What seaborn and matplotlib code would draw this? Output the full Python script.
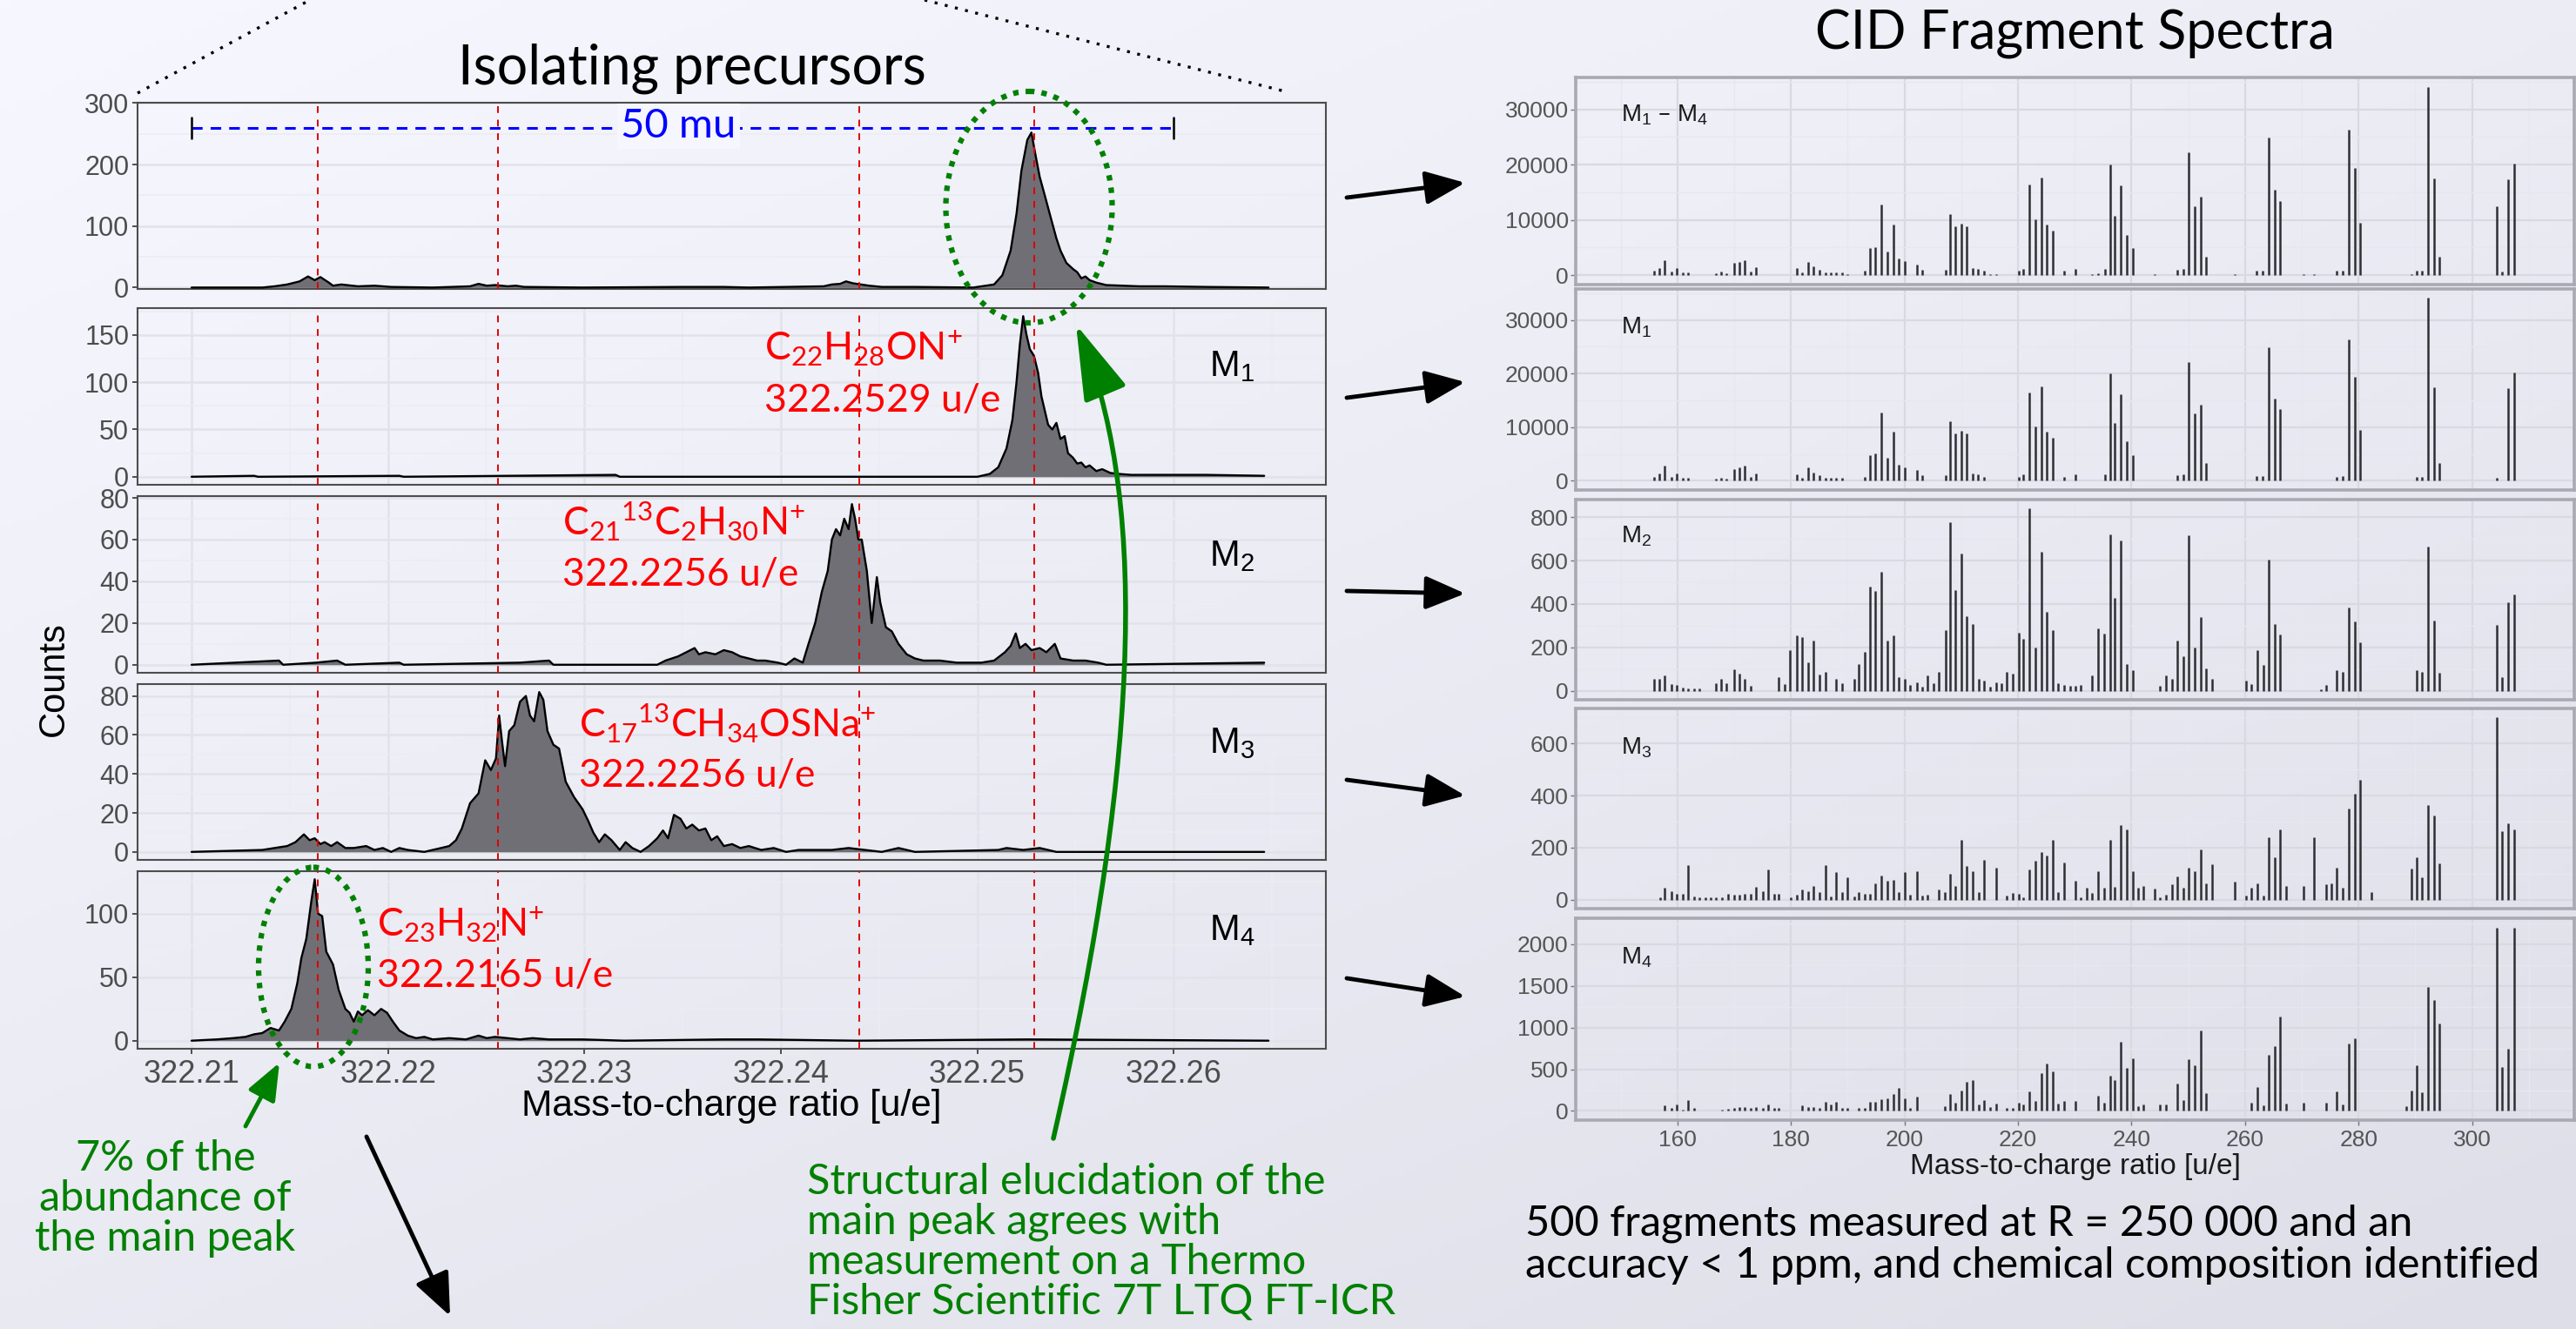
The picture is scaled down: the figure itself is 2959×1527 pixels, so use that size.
import numpy as np
import matplotlib
matplotlib.use("Agg")
import matplotlib.pyplot as plt
import seaborn as sns
from matplotlib.patches import Ellipse, FancyArrowPatch
from matplotlib.path import Path

# ---------------------------------------------------------------- data
# precursor isolation profiles (m/z, counts)
prec_all = [(322.21000, 0), (322.21296, 0), (322.21360, 0), (322.21423, 2), (322.21487, 5),
            (322.21550, 10), (322.21593, 18), (322.21627, 12), (322.21656, 17), (322.21699, 8),
            (322.21720, 3), (322.21762, 5), (322.21847, 2), (322.21931, 3), (322.22016, 1),
            (322.22228, 0), (322.22418, 2), (322.22461, 6), (322.22503, 3), (322.22545, 4),
            (322.22609, 2), (322.22651, 3), (322.22693, 1), (322.22990, 0), (322.23498, 1),
            (322.23710, 1), (322.23837, 0), (322.24218, 2), (322.24260, 5), (322.24302, 6),
            (322.24332, 10), (322.24366, 7), (322.24408, 5), (322.24450, 3), (322.24514, 1),
            (322.24683, 1), (322.24980, 0), (322.25086, 5), (322.25128, 20), (322.25170, 60),
            (322.25200, 120), (322.25225, 190), (322.25255, 240), (322.25276, 252), (322.25297, 215),
            (322.25318, 180), (322.25348, 145), (322.25369, 120), (322.25403, 80), (322.25424, 60),
            (322.25454, 40), (322.25488, 30), (322.25509, 25), (322.25530, 15), (322.25551, 18),
            (322.25572, 12), (322.25606, 8), (322.25657, 4), (322.25742, 3), (322.25826, 2),
            (322.25953, 2), (322.26165, 1), (322.26483, 0)]

prec_m1 = [(322.21000, 0), (322.21318, 1), (322.21339, 0), (322.22058, 1), (322.22080, 0),
           (322.23159, 2), (322.23180, 0), (322.25001, 0), (322.25064, 3), (322.25107, 10),
           (322.25149, 30), (322.25179, 60), (322.25200, 100), (322.25217, 140), (322.25234, 170),
           (322.25251, 150), (322.25268, 135), (322.25289, 128), (322.25310, 110), (322.25327, 85),
           (322.25344, 70), (322.25361, 55), (322.25382, 50), (322.25403, 57), (322.25424, 40),
           (322.25445, 43), (322.25462, 25), (322.25488, 20), (322.25509, 14), (322.25530, 15),
           (322.25551, 10), (322.25572, 12), (322.25606, 6), (322.25636, 8), (322.25678, 4),
           (322.25720, 3), (322.25784, 2), (322.25953, 2), (322.26165, 2), (322.26461, 1)]

prec_m2 = [(322.21000, 0), (322.21445, 2), (322.21466, 0), (322.21635, 1), (322.21741, 2),
           (322.21783, 0), (322.22058, 1), (322.22080, 0), (322.22672, 1), (322.22820, 2),
           (322.22842, 0), (322.23371, 0), (322.23413, 2), (322.23477, 4), (322.23519, 6),
           (322.23561, 8), (322.23583, 5), (322.23616, 6), (322.23667, 5), (322.23710, 7),
           (322.23752, 6), (322.23794, 4), (322.23837, 3), (322.23879, 2), (322.23921, 2),
           (322.23985, 1), (322.24027, 0), (322.24069, 3), (322.24112, 1), (322.24141, 10),
           (322.24175, 20), (322.24209, 35), (322.24239, 45), (322.24260, 60), (322.24281, 65),
           (322.24302, 62), (322.24323, 70), (322.24345, 65), (322.24362, 77), (322.24378, 70),
           (322.24395, 60), (322.24412, 60), (322.24438, 45), (322.24463, 20), (322.24489, 42),
           (322.24506, 30), (322.24535, 18), (322.24565, 16), (322.24599, 10), (322.24641, 5),
           (322.24683, 3), (322.24726, 2), (322.24810, 2), (322.24895, 1), (322.25022, 1),
           (322.25086, 2), (322.25141, 6), (322.25170, 9), (322.25196, 15), (322.25217, 8),
           (322.25246, 10), (322.25276, 7), (322.25318, 8), (322.25352, 6), (322.25395, 10),
           (322.25424, 3), (322.25488, 2), (322.25551, 2), (322.25615, 1), (322.25657, 0),
           (322.26461, 1)]

prec_m3 = [(322.21000, 0), (322.21360, 1), (322.21423, 2), (322.21487, 3), (322.21529, 5),
           (322.21572, 9), (322.21601, 6), (322.21627, 7), (322.21656, 4), (322.21677, 5),
           (322.21711, 3), (322.21741, 5), (322.21783, 2), (322.21826, 2), (322.21889, 3),
           (322.21931, 1), (322.21974, 2), (322.22016, 0), (322.22058, 2), (322.22101, 1),
           (322.22185, 0), (322.22270, 2), (322.22312, 3), (322.22346, 6), (322.22376, 12),
           (322.22418, 25), (322.22461, 30), (322.22495, 47), (322.22524, 42), (322.22550, 48),
           (322.22566, 70), (322.22579, 58), (322.22596, 44), (322.22617, 62), (322.22643, 65),
           (322.22672, 77), (322.22702, 80), (322.22723, 70), (322.22744, 67), (322.22770, 82),
           (322.22791, 78), (322.22812, 62), (322.22842, 55), (322.22871, 53), (322.22905, 36),
           (322.22948, 28), (322.22990, 22), (322.23019, 16), (322.23045, 10), (322.23075, 5),
           (322.23104, 9), (322.23138, 6), (322.23180, 1), (322.23210, 5), (322.23244, 2),
           (322.23286, 0), (322.23329, 3), (322.23371, 7), (322.23400, 11), (322.23426, 7),
           (322.23456, 19), (322.23489, 17), (322.23519, 12), (322.23549, 14), (322.23583, 11),
           (322.23616, 12), (322.23646, 6), (322.23676, 8), (322.23710, 3), (322.23752, 4),
           (322.23794, 2), (322.23837, 3), (322.23900, 1), (322.23964, 2), (322.24027, 0),
           (322.24091, 1), (322.24260, 1), (322.24345, 2), (322.24429, 1), (322.24514, 0),
           (322.24599, 2), (322.24683, 0), (322.25107, 1), (322.25149, 2), (322.25234, 1),
           (322.25318, 2), (322.25403, 0), (322.26461, 0)]

prec_m4 = [(322.21000, 0), (322.21127, 1), (322.21212, 2), (322.21275, 3), (322.21318, 5),
           (322.21360, 6), (322.21402, 10), (322.21445, 8), (322.21474, 15), (322.21508, 25),
           (322.21538, 45), (322.21559, 65), (322.21584, 80), (322.21610, 110), (322.21627, 127),
           (322.21644, 100), (322.21665, 98), (322.21686, 70), (322.21720, 60), (322.21749, 40),
           (322.21783, 25), (322.21804, 22), (322.21826, 15), (322.21847, 23), (322.21868, 20),
           (322.21898, 24), (322.21931, 20), (322.21965, 25), (322.21995, 22), (322.22025, 15),
           (322.22058, 8), (322.22101, 4), (322.22143, 2), (322.22185, 3), (322.22228, 1),
           (322.22312, 2), (322.22397, 1), (322.22461, 4), (322.22503, 2), (322.22545, 3),
           (322.22609, 2), (322.22672, 1), (322.22736, 2), (322.22820, 1), (322.22990, 1),
           (322.23202, 0), (322.23710, 1), (322.23879, 1), (322.24387, 0), (322.25255, 1),
           (322.26483, 0)]

ref_mz = [322.21644, 322.22558, 322.24400, 322.25289]
prec_xticks = [322.21, 322.22, 322.23, 322.24, 322.25, 322.26]

# CID fragment spectra (m/z, intensity)
frag_m1m4 = [(155.9, 780), (156.8, 1300), (157.8, 2760), (158.9, 680), (159.9, 1360), (160.9, 520),
             (161.9, 520), (166.8, 370), (167.7, 620), (168.7, 370), (170.0, 2190), (170.9, 2450),
             (171.9, 2760), (172.9, 680), (173.9, 1400), (181.0, 1250), (182.0, 520), (183.0, 2450),
             (184.0, 1560), (185.1, 1040), (186.1, 520), (187.0, 520), (188.0, 520), (189.0, 520),
             (190.0, 150), (191.1, 80), (193.0, 780), (194.0, 4850), (194.9, 5110), (195.9, 12780),
             (197.0, 4330), (198.0, 9130), (199.0, 3030), (200.0, 2500), (202.2, 1980), (203.1, 1040),
             (205.1, 100), (207.2, 1040), (208.1, 11060), (209.0, 8820), (210.0, 9390), (211.0, 8820),
             (212.0, 1360), (213.0, 1150), (214.1, 780), (215.1, 150), (216.1, 120), (217.1, 100),
             (220.1, 780), (221.0, 1150), (222.0, 16430), (223.0, 10170), (224.1, 17630), (225.1, 9130),
             (226.1, 8090), (228.1, 780), (230.2, 1150), (233.1, 200), (234.1, 300), (235.3, 1150),
             (236.2, 20080), (237.1, 10800), (238.1, 16170), (239.1, 7300), (240.2, 4850), (244.1, 120),
             (246.1, 100), (248.1, 1040), (249.1, 1150), (250.1, 22170), (251.2, 12520), (252.2, 14190),
             (253.2, 3390), (258.2, 120), (262.0, 890), (263.1, 890), (264.2, 24880), (265.2, 15390),
             (266.2, 13460), (270.3, 150), (272.2, 200), (276.2, 780), (277.2, 890), (278.3, 26340),
             (279.3, 19400), (280.3, 9500), (289.3, 150), (290.2, 780), (291.2, 780), (292.3, 34060),
             (293.3, 17480), (294.3, 3390), (304.3, 12520), (305.3, 630), (306.4, 17320), (307.4, 20240)]

frag_m1 = [(155.9, 780), (156.8, 1300), (157.8, 2760), (158.9, 680), (159.9, 1360), (160.9, 520),
           (161.9, 520), (166.8, 370), (167.7, 620), (168.7, 370), (170.0, 2190), (170.9, 2450),
           (171.9, 2760), (172.9, 680), (173.9, 1400), (181.0, 1250), (182.0, 520), (183.0, 2450),
           (184.0, 1560), (185.1, 1040), (186.1, 520), (187.0, 520), (188.0, 520), (189.0, 520),
           (193.0, 780), (194.0, 4850), (194.9, 5110), (195.9, 12780), (197.0, 4330), (198.0, 9130),
           (199.0, 3030), (200.0, 2500), (202.2, 1980), (203.1, 1040), (207.2, 1040), (208.1, 11060),
           (209.0, 8820), (210.0, 9390), (211.0, 8820), (212.0, 1360), (213.0, 1150), (214.1, 780),
           (220.1, 780), (221.0, 1150), (222.0, 16430), (223.0, 10170), (224.1, 17630), (225.1, 9130),
           (226.1, 8090), (228.1, 780), (230.2, 1150), (235.3, 1150), (236.2, 20080), (237.1, 10800),
           (238.1, 16170), (239.1, 7300), (240.2, 4850), (248.1, 1040), (249.1, 1150), (250.1, 22170),
           (251.2, 12520), (252.2, 14190), (253.2, 3390), (262.0, 890), (263.1, 890), (264.2, 24880),
           (265.2, 15390), (266.2, 13460), (276.2, 780), (277.2, 890), (278.3, 26340), (279.3, 19400),
           (280.3, 9500), (290.2, 780), (291.2, 780), (292.3, 34060), (293.3, 17480), (294.3, 3390),
           (304.3, 600), (306.4, 17320), (307.4, 20240)]

frag_m2 = [(155.9, 53), (156.8, 53), (157.8, 72), (158.9, 32), (159.9, 25), (160.9, 16), (161.9, 9),
           (162.9, 9), (163.9, 9), (166.8, 36), (167.7, 53), (168.7, 36), (170.0, 100), (170.9, 80),
           (171.9, 53), (172.9, 23), (177.9, 63), (178.9, 29), (179.8, 189), (181.0, 256), (182.0, 248),
           (183.0, 129), (184.0, 232), (185.1, 76), (186.1, 87), (188.0, 56), (189.0, 36), (191.1, 53),
           (192.0, 123), (193.0, 179), (194.0, 480), (194.9, 459), (195.9, 547), (197.0, 232),
           (198.0, 256), (199.0, 63), (200.0, 56), (201.0, 27), (202.2, 40), (203.1, 19), (204.1, 69),
           (205.1, 36), (206.0, 88), (207.2, 279), (208.1, 776), (209.0, 463), (210.0, 632), (211.0, 343),
           (212.0, 307), (213.1, 53), (214.1, 45), (215.1, 19), (216.1, 40), (217.1, 33), (218.0, 87),
           (219.1, 80), (220.1, 267), (221.0, 240), (222.0, 840), (223.0, 200), (224.1, 640), (225.1, 365),
           (226.1, 279), (227.1, 33), (228.1, 25), (229.2, 23), (230.2, 23), (231.1, 27), (233.1, 69),
           (234.1, 289), (235.2, 263), (236.2, 723), (237.1, 429), (238.1, 693), (239.1, 123), (240.2, 93),
           (245.0, 23), (246.1, 69), (247.1, 53), (248.1, 233), (249.1, 160), (250.1, 719), (251.2, 200),
           (252.2, 339), (253.2, 103), (254.2, 53), (260.2, 47), (261.1, 32), (262.2, 187), (263.2, 120),
           (264.2, 603), (265.2, 307), (266.2, 259), (273.3, 5), (274.3, 27), (276.2, 96), (277.2, 87),
           (278.3, 383), (279.3, 319), (280.3, 223), (290.2, 96), (291.2, 87), (292.3, 665), (293.3, 325),
           (294.3, 83), (304.3, 305), (305.3, 63), (306.4, 409), (307.4, 443)]

frag_m3 = [(156.9, 8), (157.8, 47), (158.9, 33), (159.9, 22), (160.9, 22), (161.9, 133), (162.9, 13),
           (163.9, 9), (164.9, 8), (165.9, 8), (166.8, 8), (167.8, 8), (169.0, 22), (170.0, 19), (170.9, 17),
           (171.9, 22), (172.9, 22), (173.9, 50), (175.0, 31), (176.0, 114), (177.0, 22), (177.9, 22),
           (180.0, 9), (181.0, 17), (182.0, 39), (183.0, 33), (184.0, 52), (185.1, 30), (186.1, 131),
           (187.0, 13), (188.0, 106), (189.0, 30), (190.0, 86), (191.1, 11), (192.0, 28), (193.0, 22),
           (194.0, 22), (194.9, 63), (195.9, 92), (197.0, 72), (198.0, 76), (199.0, 30), (200.0, 106),
           (201.0, 20), (202.2, 109), (203.1, 14), (204.1, 17), (206.0, 37), (207.1, 28), (208.1, 100),
           (209.0, 52), (210.0, 230), (211.0, 128), (212.0, 108), (213.1, 30), (214.1, 152), (216.1, 124),
           (218.0, 14), (219.1, 26), (220.1, 22), (221.0, 8), (222.0, 117), (223.0, 150), (224.1, 183),
           (225.1, 170), (226.1, 230), (227.1, 30), (228.1, 141), (230.2, 72), (231.1, 8), (232.1, 44),
           (233.1, 26), (234.1, 108), (235.2, 44), (236.2, 230), (237.1, 50), (238.1, 286), (239.1, 270),
           (240.2, 109), (241.1, 44), (242.1, 53), (244.1, 42), (245.0, 8), (246.1, 17), (247.1, 59),
           (248.1, 89), (249.1, 44), (250.1, 122), (251.2, 108), (252.2, 194), (253.2, 61), (254.2, 137),
           (258.2, 70), (260.2, 14), (261.1, 44), (262.2, 61), (263.2, 14), (264.2, 239), (265.2, 164),
           (266.2, 270), (267.3, 52), (270.3, 52), (272.2, 239), (274.3, 59), (275.2, 63), (276.2, 122),
           (277.2, 44), (278.3, 350), (279.3, 408), (280.3, 461), (282.3, 30), (289.3, 119), (290.2, 164),
           (291.2, 87), (292.3, 363), (293.3, 324), (294.3, 139), (304.3, 700), (305.3, 264), (306.4, 292),
           (307.4, 270)]

frag_m4 = [(157.8, 66), (158.9, 38), (159.9, 73), (160.9, 14), (161.9, 129), (162.9, 31), (167.8, 14),
           (169.0, 24), (170.0, 31), (170.9, 42), (171.9, 49), (172.9, 31), (173.9, 49), (175.0, 31),
           (176.0, 77), (177.0, 31), (177.9, 31), (182.0, 66), (183.0, 49), (184.0, 49), (185.1, 31),
           (186.1, 112), (187.0, 77), (188.0, 108), (189.0, 31), (190.0, 31), (192.0, 31), (193.0, 31),
           (194.0, 112), (194.9, 112), (195.9, 143), (197.0, 147), (198.0, 199), (199.0, 276), (200.0, 147),
           (201.0, 38), (202.2, 171), (207.1, 56), (208.1, 206), (209.0, 94), (210.0, 241), (211.0, 346),
           (212.0, 373), (213.1, 73), (214.1, 129), (215.1, 49), (216.1, 84), (218.0, 38), (219.1, 31),
           (220.1, 94), (221.0, 73), (222.0, 234), (223.0, 119), (224.1, 450), (225.1, 572), (226.1, 475),
           (227.1, 84), (228.1, 119), (230.2, 119), (234.1, 181), (235.2, 94), (236.2, 422), (237.1, 373),
           (238.1, 834), (239.1, 520), (240.2, 632), (241.1, 59), (242.1, 73), (245.0, 73), (246.1, 73),
           (248.1, 328), (249.1, 129), (250.1, 625), (251.2, 548), (252.2, 967), (253.2, 213), (261.1, 94),
           (262.2, 286), (263.2, 66), (264.2, 670), (265.2, 775), (266.2, 1131), (267.3, 84), (270.3, 101),
           (274.3, 101), (276.2, 230), (277.2, 77), (278.3, 810), (279.3, 869), (288.4, 59), (289.3, 241),
           (290.2, 544), (291.2, 223), (292.3, 1490), (293.3, 1330), (294.3, 1054), (304.3, 2202),
           (305.3, 527), (306.4, 747), (307.4, 2202)]

frag_xticks = [160, 180, 200, 220, 240, 260, 280, 300]

# ---------------------------------------------------------------- figure
W, H, DPI = 2959, 1527, 100
sns.set_theme(style="white")
plt.rcParams['font.family'] = ['Liberation Sans', 'DejaVu Sans']
plt.rcParams['axes.unicode_minus'] = False

SLIDE = ['Lato', 'DejaVu Sans']
GREEN = '#008000'

fig = plt.figure(figsize=(W / DPI, H / DPI), dpi=DPI)


def px_axes(l, t, r, b, **kw):
    return fig.add_axes([l / W, 1 - b / H, (r - l) / W, (b - t) / H], **kw)


def minor_between(ticks):
    return [(a + b) / 2 for a, b in zip(ticks[:-1], ticks[1:])] + [ticks[-1] + (ticks[1] - ticks[0]) / 2]


# slide background gradient
bg = fig.add_axes([0, 0, 1, 1], zorder=-10)
yy, xx = np.mgrid[0:1:200j, 0:1:200j]
tt = 0.45 * xx + 0.55 * yy
c0 = np.array([247, 248, 255]) / 255
c1 = np.array([222, 222, 232]) / 255
bg.imshow(c0[None, None, :] * (1 - tt[..., None]) + c1[None, None, :] * tt[..., None],
          extent=[0, 1, 0, 1], aspect='auto', origin='upper')
bg.axis('off')

# ---------------------------------------------------------------- left panels
left_panels = [
    dict(data=prec_all, top=118, bot=332, ylim=(-2.3, 300.5), yt=[0, 100, 200, 300], vgrid=False),
    dict(data=prec_m1, top=354, bot=557, ylim=None, yt=[0, 50, 100, 150], vgrid=True),
    dict(data=prec_m2, top=570, bot=773, ylim=None, yt=[0, 20, 40, 60, 80], vgrid=True),
    dict(data=prec_m3, top=786, bot=988, ylim=None, yt=[0, 20, 40, 60, 80], vgrid=True),
    dict(data=prec_m4, top=1001, bot=1205, ylim=None, yt=[0, 50, 100], vgrid=True),
]
left_axes = []
for i, p in enumerate(left_panels):
    ax = px_axes(158, p['top'], 1523, p['bot'])
    ax.set_facecolor('none')
    ax.set_axisbelow(True)
    mz = [d[0] for d in p['data']]
    cnt = [d[1] for d in p['data']]
    ax.fill_between(mz, cnt, 0, color='#6F6F75', lw=0, zorder=2)
    sns.lineplot(x=mz, y=cnt, ax=ax, color='black', lw=1.7, estimator=None, sort=False, zorder=3)
    yt = p['yt']
    ax.set_yticks(yt)
    ax.set_yticks(minor_between(yt), minor=True)
    ax.set_yticklabels([str(v) for v in yt])
    ax.set_xticks(prec_xticks)
    ax.set_xticks([v + 0.005 for v in prec_xticks], minor=True)
    ax.set_xlim(322.20725, 322.26775)
    if p['ylim'] is None:
        m = max(cnt)
        ax.set_ylim(-0.05 * m, 1.05 * m)
    else:
        ax.set_ylim(*p['ylim'])
    ax.grid(which='major', axis='y', color='#E2E2EA', lw=1.8)
    ax.grid(which='minor', axis='y', color='#ECECF3', lw=1.1)
    if p['vgrid']:
        ax.grid(which='major', axis='x', color='#E2E2EA', lw=1.8)
        ax.grid(which='minor', axis='x', color='#ECECF3', lw=1.1)
    for v in ref_mz:
        ax.axvline(v, color='#E00000', lw=1.4, ls=(0, (4, 4)), zorder=4)
    for s in ax.spines.values():
        s.set_color('#4D4D4D')
        s.set_linewidth(1.5)
    ax.tick_params(axis='y', which='major', length=4, width=1.2, color='#333333',
                   labelsize=22, labelcolor='#4D4D4D', pad=3, left=True)
    ax.tick_params(which='minor', length=0)
    if i == len(left_panels) - 1:
        ax.set_xticklabels([f'{v:.2f}' for v in prec_xticks])
        ax.tick_params(axis='x', which='major', length=4, width=1.2, color='#333333',
                       labelsize=26, labelcolor='#4D4D4D', pad=5, bottom=True)
    else:
        ax.tick_params(axis='x', which='both', bottom=False, labelbottom=False)
    ax.set_xlabel('')
    ax.set_ylabel('')
    left_axes.append(ax)

# 50 mu span in the top panel
ax0 = left_axes[0]
ax0.plot([322.21, 322.26], [260, 260], color='#0000FF', lw=2.2, ls=(0, (4, 3)), zorder=5)
ax0.plot([322.21, 322.21], [243, 277], color='black', lw=1.8, zorder=5)
ax0.plot([322.26, 322.26], [243, 277], color='black', lw=1.8, zorder=5)
ax0.text(322.2348, 262, '50 mu', color='#0000FF', fontsize=34, family=SLIDE, ha='center', va='center',
         zorder=6, bbox=dict(boxstyle='square,pad=0.1', fc='#F5F6FE', ec='none'))
ax0.set_ylim(-2.3, 300.5)

# ---------------------------------------------------------------- right panels
right_panels = [
    dict(data=frag_m1m4, top=89, bot=327, yt=[0, 10000, 20000, 30000],
         lab=r'$\mathregular{M_1}$ – $\mathregular{M_4}$', ly=140),
    dict(data=frag_m1, top=332, bot=563, yt=[0, 10000, 20000, 30000],
         lab=r'$\mathregular{M_1}$', ly=383),
    dict(data=frag_m2, top=574, bot=804, yt=[0, 200, 400, 600, 800],
         lab=r'$\mathregular{M_2}$', ly=623),
    dict(data=frag_m3, top=814, bot=1044, yt=[0, 200, 400, 600],
         lab=r'$\mathregular{M_3}$', ly=867),
    dict(data=frag_m4, top=1055, bot=1287, yt=[0, 500, 1000, 1500, 2000],
         lab=r'$\mathregular{M_4}$', ly=1107),
]
for i, p in enumerate(right_panels):
    ax = px_axes(1810, p['top'], 2957, p['bot'])
    ax.set_facecolor('none')
    ax.set_axisbelow(True)
    mz = [d[0] for d in p['data']]
    it = [d[1] for d in p['data']]
    ax.vlines(mz, 0, it, color='#2F2F33', lw=1.8, zorder=3)
    yt = p['yt']
    ax.set_yticks(yt)
    ax.set_yticklabels([str(v) for v in yt])
    ax.set_yticks(minor_between(yt), minor=True)
    ax.set_xticks(frag_xticks)
    ax.set_xticks([v - 10 for v in frag_xticks] + [310], minor=True)
    ax.set_xlim(142.1, 318.0)
    m = max(it)
    ax.set_ylim(-0.05 * m, 1.05 * m)
    ax.grid(which='major', color='#D9D9E2', lw=1.6)
    ax.grid(which='minor', color='#E7E7EF', lw=1.0)
    for s in ax.spines.values():
        s.set_color('#A9A9B2')
        s.set_linewidth(2.6)
    ax.tick_params(axis='y', which='major', length=4, width=1.0, color='#777777',
                   labelsize=19, labelcolor='#555555', pad=2, left=True)
    ax.tick_params(which='minor', length=0)
    if i == len(right_panels) - 1:
        ax.set_xticklabels([str(v) for v in frag_xticks])
        ax.tick_params(axis='x', which='major', length=4, width=1.0, color='#777777',
                       labelsize=19, labelcolor='#555555', pad=4, bottom=True)
    else:
        ax.tick_params(axis='x', which='both', bottom=False, labelbottom=False)
    fig.text(1862 / W, 1 - p['ly'] / H, p['lab'], fontsize=20, color='#1A1A1A',
             ha='left', va='baseline')

# ---------------------------------------------------------------- overlay annotations
ov = fig.add_axes([0, 0, 1, 1], zorder=20)
ov.set_xlim(0, W)
ov.set_ylim(H, 0)
ov.axis('off')

# titles & axis titles
ov.text(795, 96, 'Isolating precursors', fontsize=45, family=SLIDE, ha='center', va='baseline', color='black')
ov.text(2383, 57, 'CID Fragment Spectra', fontsize=44, family=SLIDE, ha='center', va='baseline', color='black')
ov.text(840, 1271, 'Mass-to-charge ratio [u/e]', fontsize=30.5, ha='center', va='center', color='black')
ov.text(2384, 1340, 'Mass-to-charge ratio [u/e]', fontsize=24, ha='center', va='center', color='#1A1A1A')
ov.text(62, 780, 'Counts', fontsize=30, ha='center', va='center', rotation=90, color='black')

# M labels on left panels
for lab, yb in [('1', 432), ('2', 650), ('3', 865), ('4', 1080)]:
    ov.text(1389, yb, r'$\mathregular{M_' + lab + '}$', fontsize=30, ha='left', va='baseline', color='black')

# red formula annotations
RED = '#FF0000'
formulas = [
    (878, 414, r'$\mathregular{C_{22}H_{28}ON^{+}}$', 473, '322.2529 u/e'),
    (646, 615, r'$\mathregular{C_{21}{}^{13}C_{2}H_{30}N^{+}}$', 673, '322.2256 u/e'),
    (665, 847, r'$\mathregular{C_{17}{}^{13}CH_{34}OSNa^{+}}$', 904, '322.2256 u/e'),
    (433, 1076, r'$\mathregular{C_{23}H_{32}N^{+}}$', 1134, '322.2165 u/e'),
]
for x, yf, ftxt, ym, mtxt in formulas:
    ov.text(x, yf, ftxt, fontsize=32, family=SLIDE, color=RED, ha='left', va='baseline')
    ov.text(x, ym, mtxt, fontsize=32, family=SLIDE, color=RED, ha='left', va='baseline')

# dotted zoom lines at top
ov.plot([158, 356], [107, 0], color='black', lw=2.4, ls=(0, (1, 2.6)))
ov.plot([1062, 1476], [0, 105], color='black', lw=2.4, ls=(0, (1, 2.6)))

# green dotted ellipses
ov.add_patch(Ellipse((1182, 238), 191, 266, fill=False, ec=GREEN, lw=4.5, ls=(0, (1, 1.3))))
ov.add_patch(Ellipse((360, 1111), 126, 229, fill=False, ec=GREEN, lw=4.5, ls=(0, (1, 1.3))))

# black arrows towards the fragment spectra
for (x0, y0), (x1, y1) in [((1547, 227), (1683, 210)), ((1547, 457), (1683, 439)),
                           ((1547, 679), (1683, 682)), ((1547, 896), (1683, 914)),
                           ((1547, 1124), (1683, 1145))]:
    ov.annotate('', xy=(x1, y1), xytext=(x0, y0),
                arrowprops=dict(arrowstyle='-|>,head_length=1.0,head_width=0.42', lw=3.5,
                                color='black', shrinkA=0, shrinkB=0, mutation_scale=28))
ov.annotate('', xy=(517, 1512), xytext=(421, 1306),
            arrowprops=dict(arrowstyle='-|>,head_length=1.0,head_width=0.42', lw=3.5,
                            color='black', shrinkA=0, shrinkB=0, mutation_scale=30))

# small green arrow
ov.annotate('', xy=(321, 1221), xytext=(282, 1294),
            arrowprops=dict(arrowstyle='-|>,head_length=1.0,head_width=0.4', lw=3.5,
                            color=GREEN, shrinkA=0, shrinkB=0, mutation_scale=26))

# big curved green arrow
curve = Path([(1210, 1308), (1315, 850), (1315, 560), (1236, 373)],
             [Path.MOVETO, Path.CURVE4, Path.CURVE4, Path.CURVE4])
ov.add_patch(FancyArrowPatch(path=curve, arrowstyle='-|>,head_length=1.0,head_width=0.3',
                             mutation_scale=54, lw=4, color=GREEN))

# slide texts
ov.text(190, 1377, '7% of the\nabundance of\nthe main peak', fontsize=35, family=SLIDE, color=GREEN,
        ha='center', va='center', multialignment='center', linespacing=1.05)
ov.text(927, 1427, 'Structural elucidation of the\nmain peak agrees with\nmeasurement on a Thermo\n'
        'Fisher Scientific 7T LTQ FT-ICR', fontsize=35, family=SLIDE, color=GREEN,
        ha='left', va='center', linespacing=1.05)
ov.text(1752, 1430, '500 fragments measured at R = 250 000 and an\n'
        'accuracy < 1 ppm, and chemical composition identified', fontsize=35, family=SLIDE,
        color='black', ha='left', va='center', linespacing=1.1)

fig.savefig('out.png', dpi=DPI)
